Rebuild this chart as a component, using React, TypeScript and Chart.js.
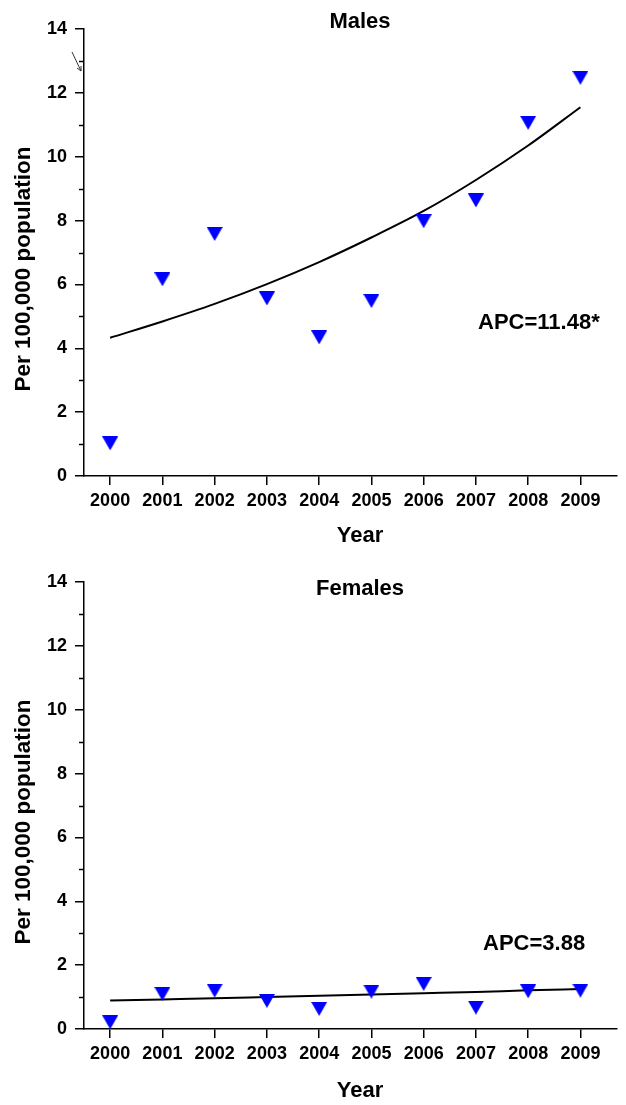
import React, { useEffect, useRef } from "react";
import { Chart, registerables } from "chart.js";

Chart.register(...registerables);

const years = [2000, 2001, 2002, 2003, 2004, 2005, 2006, 2007, 2008, 2009];
const maleRates = [1.02, 6.16, 7.58, 5.56, 4.34, 5.48, 7.98, 8.63, 11.06, 12.47];
const maleFit = [4.33, 4.84, 5.39, 6.01, 6.7, 7.47, 8.3, 9.27, 10.35, 11.55];
const femaleRates = [0.21, 1.1, 1.2, 0.88, 0.63, 1.17, 1.41, 0.67, 1.18, 1.2];
const femaleFit = [0.89, 0.925, 0.96, 1.0, 1.04, 1.08, 1.12, 1.16, 1.21, 1.25];
const yTickValues = [0, 2, 4, 6, 8, 10, 12, 14];
const yMinorValues = [1, 3, 5, 7, 9, 11, 13];
const yAxisTitle = "Per 100,000 population";
const xAxisTitle = "Year";
const maleTitle = "Males";
const femaleTitle = "Females";
const maleApc = "APC=11.48*";
const femaleApc = "APC=3.88";

const FONT = '"Liberation Sans", Arial, Helvetica, sans-serif';

function makeTriangle(): HTMLCanvasElement {
  const c = document.createElement("canvas");
  c.width = 16;
  c.height = 14;
  const g = c.getContext("2d")!;
  g.fillStyle = "#0000ff";
  g.beginPath();
  g.moveTo(0, 0);
  g.lineTo(16, 0);
  g.lineTo(8, 14);
  g.closePath();
  g.fill();
  return c;
}

type PanelProps = {
  title: string;
  apc: string;
  rates: number[];
  fit: number[];
  titleBaseline: number;
  apcX: number;
  apcBaseline: number;
  yearBaseline: number;
  showBreak: boolean;
  height: number;
};

function Panel(p: PanelProps) {
  const ref = useRef<HTMLCanvasElement>(null);
  useEffect(() => {
    const canvas = ref.current!;
    const tri = makeTriangle();
    const annot = {
      id: "annot",
      afterDraw(chart: any) {
        const ctx = chart.ctx as CanvasRenderingContext2D;
        const ys = chart.scales.y;
        ctx.save();
        ctx.strokeStyle = "#000";
        ctx.lineWidth = 1.5;
        yMinorValues.forEach((v) => {
          const py = Math.round(ys.getPixelForValue(v)) + 0.5;
          ctx.beginPath();
          ctx.moveTo(ys.right - 5, py);
          ctx.lineTo(ys.right, py);
          ctx.stroke();
        });
        if (p.showBreak) {
          ctx.strokeStyle = "#333";
          ctx.lineWidth = 1;
          ctx.beginPath();
          ctx.moveTo(72, 52);
          ctx.lineTo(81, 71);
          ctx.moveTo(77, 68);
          ctx.lineTo(81, 71);
          ctx.lineTo(81, 66);
          ctx.stroke();
        }
        ctx.fillStyle = "#000";
        ctx.textBaseline = "alphabetic";
        ctx.font = `bold 22px ${FONT}`;
        ctx.textAlign = "center";
        ctx.fillText(p.title, 360, p.titleBaseline);
        ctx.textAlign = "left";
        ctx.fillText(p.apc, p.apcX, p.apcBaseline);
        ctx.textAlign = "center";
        ctx.fillText(xAxisTitle, 360, p.yearBaseline);
        ctx.font = `bold 22.5px ${FONT}`;
        ctx.save();
        ctx.translate(30, 269);
        ctx.rotate(-Math.PI / 2);
        ctx.fillText(yAxisTitle, 0, 0);
        ctx.restore();
        ctx.restore();
      },
    };
    const tickFont = { family: FONT, size: 18, weight: "bold" as const };
    const chart = new Chart(canvas, {
      type: "scatter",
      data: {
        datasets: [
          {
            type: "line",
            data: years.map((x, i) => ({ x, y: p.fit[i] })),
            borderColor: "#000",
            borderWidth: 2,
            pointRadius: 0,
            cubicInterpolationMode: "monotone",
            fill: false,
            order: 2,
          } as any,
          {
            type: "scatter",
            data: years.map((x, i) => ({ x, y: p.rates[i] })),
            pointStyle: tri,
            pointRadius: 8,
            backgroundColor: "#0000ff",
            borderColor: "#0000ff",
            order: 1,
          } as any,
        ],
      },
      options: {
        responsive: false,
        animation: false,
        devicePixelRatio: 1,
        layout: { padding: { top: 29, right: 6, left: 0, bottom: 0 } },
        plugins: {
          legend: { display: false },
          tooltip: { enabled: false },
          title: { display: false },
        },
        scales: {
          x: {
            type: "linear",
            min: 1999.5,
            max: 2009.7,
            afterBuildTicks: (s: any) => {
              s.ticks = years.map((v) => ({ value: v }));
            },
            afterFit: (s: any) => {
              s.height = p.height - 476;
            },
            ticks: {
              font: tickFont,
              color: "#000",
              padding: 5,
              maxRotation: 0,
              autoSkip: false,
              callback: (v: any) => String(v),
            },
            grid: {
              drawOnChartArea: false,
              drawTicks: true,
              tickLength: 9,
              color: "#000",
              lineWidth: 1.5,
            },
            border: { display: true, color: "#000", width: 1.5 },
          },
          y: {
            type: "linear",
            min: 0,
            max: 14,
            afterBuildTicks: (s: any) => {
              s.ticks = yTickValues.map((v) => ({ value: v }));
            },
            afterFit: (s: any) => {
              s.width = 84;
            },
            ticks: {
              font: tickFont,
              color: "#000",
              padding: 8,
              callback: (v: any) => String(v),
            },
            grid: {
              drawOnChartArea: false,
              drawTicks: true,
              tickLength: 9,
              color: "#000",
              lineWidth: 1.5,
            },
            border: { display: true, color: "#000", width: 1.5 },
          },
        },
      },
      plugins: [annot],
    });
    return () => chart.destroy();
  }, []);
  return (
    <canvas
      ref={ref}
      width={626}
      height={p.height}
      style={{ display: "block", width: 626, height: p.height }}
    />
  );
}

export default function App() {
  return (
    <div
      style={{
        position: "absolute",
        left: 0,
        top: 0,
        width: 626,
        height: 1105,
        background: "#fff",
      }}
    >
      <Panel
        title={maleTitle}
        apc={maleApc}
        rates={maleRates}
        fit={maleFit}
        titleBaseline={28}
        apcX={478}
        apcBaseline={329}
        yearBaseline={542}
        showBreak={true}
        height={553}
      />
      <Panel
        title={femaleTitle}
        apc={femaleApc}
        rates={femaleRates}
        fit={femaleFit}
        titleBaseline={42}
        apcX={483}
        apcBaseline={397}
        yearBaseline={544}
        showBreak={false}
        height={552}
      />
    </div>
  );
}
